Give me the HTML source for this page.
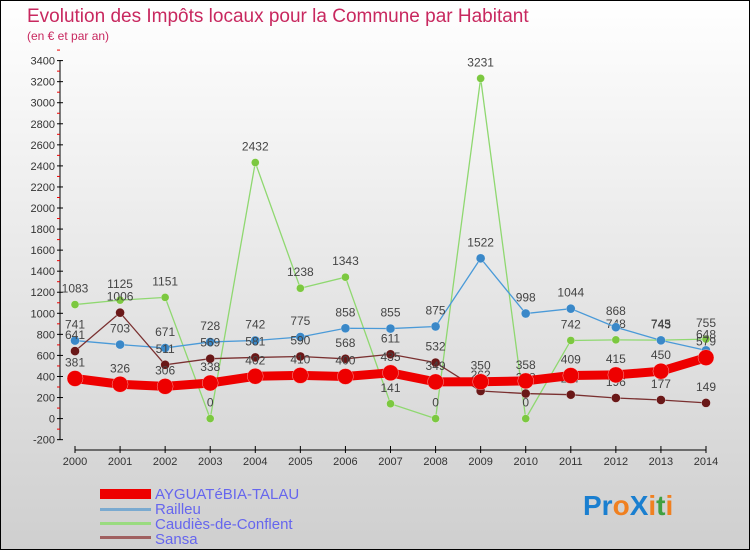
<!DOCTYPE html>
<html><head><meta charset="utf-8"><style>
body{margin:0;}
svg text{font-family:"Liberation Sans",sans-serif;}
</style></head><body>
<svg width="750" height="550" xmlns="http://www.w3.org/2000/svg">
<defs><linearGradient id="bg" x1="0" y1="0" x2="0" y2="1"><stop offset="0" stop-color="#ffffff"/><stop offset="1" stop-color="#cfcfcf"/></linearGradient></defs>
<rect x="0.5" y="0.5" width="749" height="549" fill="url(#bg)" stroke="#000"/>
<text x="27" y="22" font-size="19" fill="#c8285f">Evolution des Impôts locaux pour la Commune par Habitant</text>
<text x="27" y="40" font-size="12" fill="#c8285f">(en € et par an)</text>
<g id="axes"></g>
<g id="series"></g>
<g id="legend">
<rect x="100" y="489" width="51" height="10" fill="#e00"/>
<text x="155" y="499" font-size="15" fill="#6666ee">AYGUATéBIA-TALAU</text>
<rect x="100" y="508" width="51" height="3" fill="#7aaad0"/>
<text x="155" y="514" font-size="15" fill="#6666ee">Railleu</text>
<rect x="100" y="522" width="51" height="3" fill="#9adb80"/>
<text x="155" y="529" font-size="15" fill="#6666ee">Caudiès-de-Conflent</text>
<rect x="100" y="536" width="51" height="3" fill="#a06060"/>
<text x="155" y="544" font-size="15" fill="#6666ee">Sansa</text>
</g>
<g font-size="28" font-weight="bold">
<text x="583" y="515"><tspan fill="#1a7fd0">Pr</tspan><tspan fill="#f08020">o</tspan><tspan fill="#1a7fd0">X</tspan><tspan fill="#f08020">i</tspan><tspan fill="#40a040">t</tspan><tspan fill="#f08020">i</tspan></text>
</g>
</svg>
<script>
const years=[2000,2001,2002,2003,2004,2005,2006,2007,2008,2009,2010,2011,2012,2013,2014];
const ayg=[381,326,306,338,402,410,400,435,349,350,358,409,415,450,579];
const railleu=[741,703,671,728,742,775,858,855,875,1522,998,1044,868,743,648];
const caudies=[1083,1125,1151,0,2432,1238,1343,141,0,3231,0,742,748,745,755];
const sansa=[641,1006,511,569,581,590,568,611,532,262,238,227,196,177,149];
const yTicks=[-200,0,200,400,600,800,1000,1200,1400,1600,1800,2000,2200,2400,2600,2800,3000,3200,3400];
const NS="http://www.w3.org/2000/svg";
const X=i=>75+i*(706-75)/(years.length-1);
const Y=v=>418.6-v*(418.6-60.6)/3400;
function mk(t,a,p){const e=document.createElementNS(NS,t);for(const k in a)e.setAttribute(k,a[k]);p.appendChild(e);return e;}
const ax=document.getElementById('axes');
const yl=mk('line',{x1:60,y1:60,x2:60,y2:440,stroke:'#000'},ax);


yTicks.forEach(v=>{
  mk('line',{x1:57,x2:63,y1:Y(v),y2:Y(v),stroke:'#000'},ax);
  mk('line',{x1:57,x2:60,y1:Y(v+100),y2:Y(v+100),stroke:'#e00'},ax);
  const t=mk('text',{x:55,y:Y(v)+4,'font-size':11,'text-anchor':'end',fill:'#333'},ax);
  t.textContent=v;
  
  
});
const xl=mk('line',{x1:75,y1:450,x2:706,y2:450,stroke:'#000'},ax);


years.forEach((y,i)=>{
  mk('line',{x1:X(i),x2:X(i),y1:446,y2:453,stroke:'#000'},ax);
  const t=mk('text',{x:X(i),y:465,'font-size':11,'text-anchor':'middle',fill:'#333'},ax);
  t.textContent=y;
  
  
});
const sg=document.getElementById('series');
function series(data,name,color,dot,w,r){
  const g=mk('g',{},sg);
  
  
  const p=mk('polyline',{points:data.map((v,i)=>X(i)+','+Y(v)).join(' '),fill:'none',stroke:color,'stroke-width':w},g);
  
  
  data.forEach((v,i)=>{
    const c=mk('circle',{cx:X(i),cy:Y(v),r:r,fill:dot,stroke:'#fff','stroke-width':0.3},g);
    
    
    const t=mk('text',{x:X(i),y:Y(v)-12,'font-size':12,'text-anchor':'middle',fill:'#444'},g);
    t.textContent=v;
    
    
  });
}
series(caudies,'caudies','#8fd870','#7cc840',1.3,4);
series(railleu,'railleu','#4a9ad8','#3a88c8',1.3,4.5);
series(sansa,'sansa','#7a3030','#6a1818',1.3,4.5);
series(ayg,'ayguatebia','#ee0000','#ee0000',9,8);
</script>
</body></html>
